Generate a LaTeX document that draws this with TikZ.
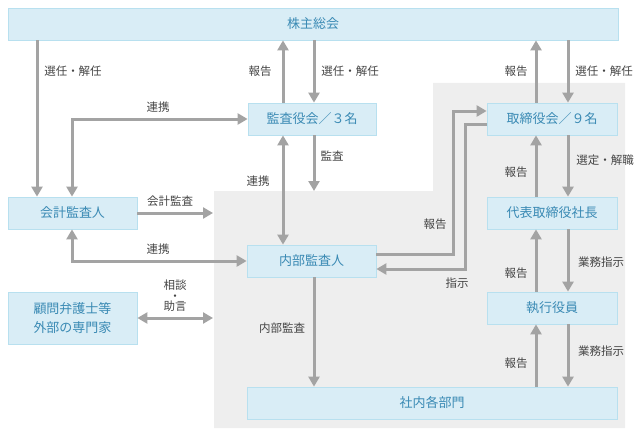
\documentclass[tikz,border=0pt]{standalone}
\usepackage{fontspec}
\setmainfont{Noto Sans CJK JP}
\usepackage{tikz}
\usetikzlibrary{arrows.meta}

\definecolor{boxfill}{HTML}{D9EDF6}
\definecolor{boxline}{HTML}{B8E0EF}
\definecolor{boxtext}{HTML}{3A8AB4}
\definecolor{arrowgray}{HTML}{A3A3A3}
\definecolor{areagray}{HTML}{EEEEEE}
\definecolor{labeltext}{HTML}{454545}

\begin{document}
\begin{tikzpicture}[
				x=1pt,
				y=-1pt,
				line join=miter,
				orgbox/.style={draw=boxline, fill=boxfill, text=boxtext, line width=0.8pt,
					font=\fontsize{13}{15}\selectfont, inner sep=0pt, minimum height=32pt},
				lbl/.style={text=labeltext, font=\fontsize{11.5}{13}\selectfont, inner sep=0pt},
				flow/.style={draw=arrowgray, line width=3pt, -{Triangle[length=10pt,width=11pt]}},
				both/.style={flow, {Triangle[length=10pt,width=11pt]}-{Triangle[length=10pt,width=11pt]}}
				]
				\useasboundingbox (0,0) rectangle (643,436);
				
				% Area
				\fill[areagray] (214,191) -- (433,191) -- (433,83) -- (625,83)
				-- (625,428) -- (214,428) -- cycle;
				
				% Boxes
				\node[orgbox, minimum width=610pt] (kabu) at (313,24) {株主総会};
				\node[orgbox, minimum width=128pt] (kansa) at (312,119) {監査役会／３名};
				\node[orgbox, minimum width=130pt] (tori) at (552,119) {取締役会／９名};
				\node[orgbox, minimum width=129pt] (kaikei) at (72.5,213) {会計監査人};
				\node[orgbox, minimum width=130pt] (shacho) at (552,213) {代表取締役社長};
				\node[orgbox, minimum width=129pt] (naibu) at (311.5,261) {内部監査人};
				\node[orgbox, minimum width=130pt] (shikko) at (552,308) {執行役員};
				\node[orgbox, minimum width=129pt, minimum height=52pt, align=center,
				font=\fontsize{13}{19}\selectfont] (komon) at (72.5,318) {顧問弁護士等\\外部の専門家};
				\node[orgbox, minimum width=370pt] (shanai) at (432,403) {社内各部門};
				
				% Columns
				\coordinate (cA) at (37,0);
				\coordinate (cB) at (72,0);
				\coordinate (cC) at (283,0);
				\coordinate (cD) at (314,0);
				\coordinate (cE) at (536,0);
				\coordinate (cF) at (568,0);
				\coordinate (kaikeiEnd) at (213,213);
				\coordinate (komonEnd) at (213,318);
				\coordinate (kansaEnd) at (314,191);
				
				% Left side
				\draw[flow] (kabu.south -| cA) -- (kaikei.north -| cA);
				\draw[both] (kaikei.north -| cB) |- (kansa.west);
				\draw[flow] (kaikei.east) -- (kaikeiEnd);
				\draw[both] (kaikei.south -| cB) |- (naibu.west);
				\draw[both] (komon.east) -- (komonEnd);
				
				% Middle
				\draw[flow] (kansa.north -| cC) -- (kabu.south -| cC);
				\draw[flow] (kabu.south -| cD) -- (kansa.north -| cD);
				\draw[both] (kansa.south -| cC) -- (naibu.north -| cC);
				\draw[flow] (kansa.south -| cD) -- (kansaEnd);
				\draw[flow] (naibu.south -| cD) -- (shanai.north -| cD);
				\draw[flow] ([yshift=7pt]naibu.east) -- ++(77,0) |- ([yshift=8pt]tori.west);
				\draw[flow] ([yshift=-5pt]tori.west) -- ++(-21,0) |- ([yshift=-8pt]naibu.east);
				
				% Right side
				\draw[flow] (tori.north -| cE) -- (kabu.south -| cE);
				\draw[flow] (kabu.south -| cF) -- (tori.north -| cF);
				\draw[flow] (shacho.north -| cE) -- (tori.south -| cE);
				\draw[flow] (tori.south -| cF) -- (shacho.north -| cF);
				\draw[flow] (shikko.north -| cE) -- (shacho.south -| cE);
				\draw[flow] (shacho.south -| cF) -- (shikko.north -| cF);
				\draw[flow] (shanai.north -| cE) -- (shikko.south -| cE);
				\draw[flow] (shikko.south -| cF) -- (shanai.north -| cF);
				
				% Labels
				\node[lbl] (l1) at (73,71) {選任・解任};
				\node[lbl] (l2) at (158,107) {連携};
				\node[lbl] (l3) at (170,201) {会計監査};
				\node[lbl] (l4) at (158,249) {連携};
				\node[lbl, align=center, font=\fontsize{11.5}{10.5}\selectfont] (l5) at (175,296) {相談\\・\\助言};
				\node[lbl] (l6) at (260,71) {報告};
				\node[lbl] (l7) at (350,71) {選任・解任};
				\node[lbl] (l8) at (258,181) {連携};
				\node[lbl] (l9) at (332,156) {監査};
				\node[lbl] (l10) at (282,328) {内部監査};
				\node[lbl] (l11) at (435,224) {報告};
				\node[lbl] (l12) at (457,283) {指示};
				\node[lbl] (l13) at (516,71) {報告};
				\node[lbl] (l14) at (604,71) {選任・解任};
				\node[lbl] (l15) at (516,172) {報告};
				\node[lbl] (l16) at (605,160) {選定・解職};
				\node[lbl] (l17) at (516,273) {報告};
				\node[lbl] (l18) at (601,262) {業務指示};
				\node[lbl] (l19) at (516,363) {報告};
				\node[lbl] (l20) at (601,351) {業務指示};
			\end{tikzpicture}
\end{document}
